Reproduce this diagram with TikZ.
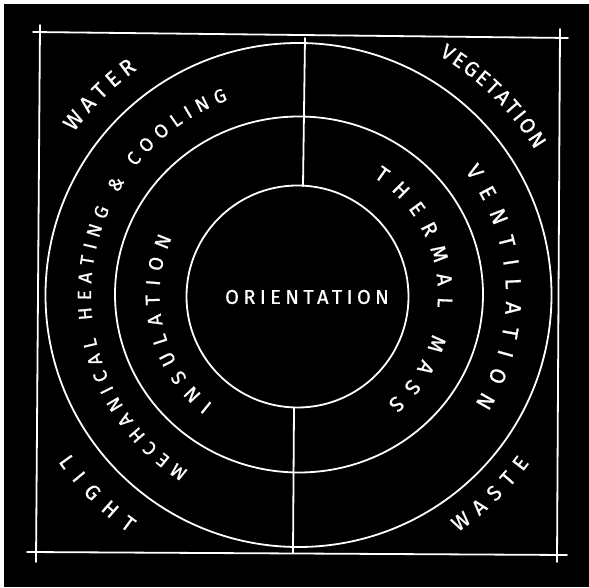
\documentclass[tikz,border=0pt]{standalone}
\usepackage{fontspec}
\setmainfont{Fira Sans}
\usetikzlibrary{decorations.text,shapes.geometric}
\newcommand\ringfont[1]{\color{white}\fontsize{#1}{#1}\selectfont\addfontfeatures{FakeBold=0.8}}
\begin{document}
\begin{tikzpicture}[x=1pt,y=1pt,
  chalk/.style={draw=white, line width=1.8pt, line cap=round},
  ringshape/.style 2 args={ellipse, chalk, inner sep=0pt, outer sep=0pt, minimum width=#1, minimum height=#2},
  arclabel/.style={decorate, decoration={text along path, text align={fit to path}, text={#1}}}
]
\useasboundingbox (0,0) rectangle (589,587);
\fill[white] (0,0) rectangle (589,587);
\fill[black] (4,0) rectangle (589,583);

% frame
\coordinate (tA) at (33,555); \coordinate (tB) at (568,549);
\coordinate (lA) at (40,562); \coordinate (lB) at (36,25);
\coordinate (bA) at (27,35);  \coordinate (bB) at (567,32);
\coordinate (rA) at (560,558); \coordinate (rB) at (557,25);
\draw[chalk] (tA) -- (tB);
\draw[chalk] (lA) -- (lB);
\draw[chalk] (bA) -- (bB);
\draw[chalk] (rA) -- (rB);

% rings
\coordinate (ctr) at (298,292);
\node[ringshape={506pt}{504pt}] (outer) at (298.5,292) {};
\node[ringshape={368pt}{356pt}] (middle) at (299,292.5) {};
\node[ringshape={222pt}{222pt}] (inner) at (297.5,290.5) {};

% divider
\coordinate (dTop) at (305,549); \coordinate (dTopIn) at (303,401);
\coordinate (dBotIn) at (294,179); \coordinate (dBot) at (293,34);
\draw[chalk] (dTop) -- (dTopIn);
\draw[chalk] (dBotIn) -- (dBot);

% centre
\node[text=white, inner sep=0pt, font={\fontsize{20}{20}\selectfont\addfontfeatures{LetterSpace=22,FakeBold=0.8}}] (orient) at (307,290) {ORIENTATION};

% ring labels
\path[shift={(ctr)}, arclabel={|\ringfont{22}|WATER}] (144:277) arc[start angle=144, end angle=125.5, radius=277];
\path[shift={(ctr)}, arclabel={|\ringfont{21}|VEGETATION}] (59.5:278) arc[start angle=59.5, end angle=31.5, radius=278];
\path[shift={(ctr)}, arclabel={|\ringfont{21}|WASTE}] (-56:286) arc[start angle=-56, end angle=-36, radius=286];
\path[shift={(ctr)}, arclabel={|\ringfont{21}|LIGHT}] (214.8:292) arc[start angle=214.8, end angle=234.5, radius=292];
\path[shift={(ctr)}, arclabel={|\ringfont{22}|VENTILATION}] (36.6:208) arc[start angle=36.6, end angle=-31.6, radius=208];
\path[shift={(ctr)}, arclabel={|\ringfont{21}|THERMAL MASS}] (57.3:140) arc[start angle=57.3, end angle=-50.3, radius=140];
\path[shift={(ctr)}, arclabel={|\ringfont{20}|INSULATION}] (232:138.5) arc[start angle=232, end angle=155.6, radius=138.5];
\path[shift={(ctr)}, arclabel={|\ringfont{19}|MECHANICAL HEATING {\&} COOLING}] (238:207) arc[start angle=238, end angle=109.8, radius=207];
\end{tikzpicture}
\end{document}
